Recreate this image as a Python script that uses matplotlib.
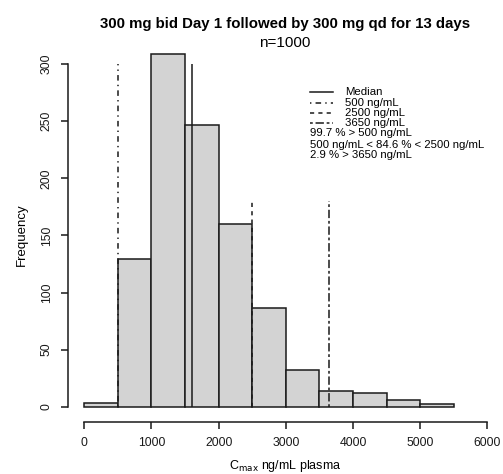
import numpy as np
import matplotlib
matplotlib.use("Agg")
import matplotlib.pyplot as plt
from matplotlib.lines import Line2D

plt.rcParams["font.family"] = ["Liberation Sans", "DejaVu Sans"]
plt.rcParams["lines.scale_dashes"] = False

# histogram of Cmax, bins of 500 ng/mL
bin_edges = [0, 500, 1000, 1500, 2000, 2500, 3000, 3500, 4000, 4500, 5000, 5500]
counts = [3, 129, 309, 247, 160, 86, 32, 14, 12, 6, 2]

median_val = 1600
median_top = 300
thresholds = [500, 2500, 3650]
threshold_tops = [300, 180, 180]
threshold_styles = [(0, (1, 3, 4, 3)), (0, (3, 3)), (0, (2, 2, 6, 2))]

legend_labels = ["Median", "500 ng/mL", "2500 ng/mL", "3650 ng/mL"]
legend_notes = ["99.7 % > 500 ng/mL", "500 ng/mL < 84.6 % < 2500 ng/mL", "2.9 % > 3650 ng/mL"]

W, H = 503, 474
fig = plt.figure(figsize=(W / 100, H / 100), dpi=100)


def fpx(x, y):
    return x / W, 1 - y / H


ax = fig.add_axes([68 / W, 1 - 421.7 / H, 436 / W, (421.7 - 39.6) / H])

widths = np.diff(bin_edges)
ax.bar(bin_edges[:-1], counts, width=widths, align="edge", color="#D3D3D3",
       edgecolor="#1a1a1a", linewidth=1.1)

ax.vlines(median_val, 0, median_top, color="#1a1a1a", linewidth=1.1)
for t, top, ls in zip(thresholds, threshold_tops, threshold_styles):
    ax.vlines(t, 0, top, color="#1a1a1a", linewidth=1.1, linestyles=[ls])

ax.set_xlim(-243, 6248)
ax.set_ylim(-13.1, 321.4)

for s in ["top", "right"]:
    ax.spines[s].set_visible(False)
ax.spines["left"].set_bounds(0, 300)
ax.spines["bottom"].set_bounds(0, 6000)
for s in ["left", "bottom"]:
    ax.spines[s].set_linewidth(1.1)
    ax.spines[s].set_color("#1a1a1a")

ax.set_xticks(range(0, 6001, 1000))
ax.set_yticks(range(0, 301, 50))
ax.tick_params(direction="out", length=5, width=1.1, colors="#1a1a1a",
               labelsize=8.8, pad=6)
for lab in ax.get_yticklabels():
    lab.set_rotation(90)
    lab.set_va("center")

fig.text(*fpx(22, 235), "Frequency", rotation=90, ha="center", va="center", fontsize=9.5)
fig.text(*fpx(285, 466), r"C$_{\mathrm{max}}$ ng/mL plasma", ha="center", va="center",
         fontsize=9)

fig.text(*fpx(285, 24), "300 mg bid Day 1 followed by 300 mg qd for 13 days",
         ha="center", va="center", fontsize=10.8, fontweight="bold")
fig.text(*fpx(285, 43), "n=1000", ha="center", va="center", fontsize=11)

# legend drawn by hand, R style
rows = [92, 102.5, 113, 123, 133.5, 144.5, 155]
styles = ["-"] + threshold_styles
for i, (lab, ls) in enumerate(zip(legend_labels, styles)):
    y = rows[i]
    x0, y0 = fpx(310, y)
    x1, _ = fpx(333, y)
    fig.add_artist(Line2D([x0, x1], [y0, y0], color="#1a1a1a", linewidth=1.1,
                          linestyle=ls, transform=fig.transFigure))
    fig.text(*fpx(345, y), lab, ha="left", va="center", fontsize=8.2)
for j, note in enumerate(legend_notes):
    fig.text(*fpx(310, rows[4 + j]), note, ha="left", va="center", fontsize=8.2)

fig.savefig("out.png", dpi=100)
